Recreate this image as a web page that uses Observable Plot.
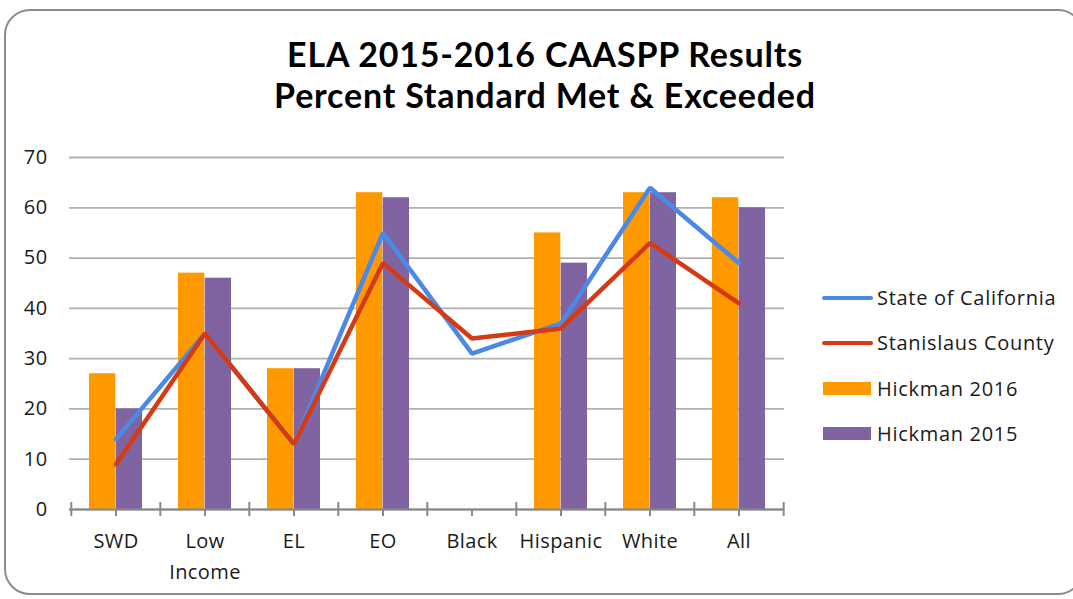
<!DOCTYPE html>
<html>
<head>
<meta charset="utf-8">
<script src="https://cdn.jsdelivr.net/npm/d3@7"></script>
<script src="https://cdn.jsdelivr.net/npm/@observablehq/plot@0.6"></script>
<style>
  html, body { margin: 0; padding: 0; background: #fff; }
  #wrap { position: relative; width: 1073px; height: 599px; overflow: hidden; background: #fff; }
  #frame { position: absolute; left: 4px; top: 9px; width: 1080px; height: 586px;
           border: 2px solid #8c8c8c; border-radius: 26px; box-sizing: border-box; }
  #title { position: absolute; left: 0; top: 33px; width: 1090px; text-align: center;
           font-family: Lato, "Open Sans", sans-serif; font-weight: 700; font-size: 34px;
           letter-spacing: 0.8px; line-height: 41px; color: #000; }
  #chart { position: absolute; left: 0; top: 0; }
  #legend { position: absolute; left: 822px; top: 275px; font-family: "Open Sans", sans-serif;
            font-size: 20px; letter-spacing: 0.7px; color: #1a1a1a; }
  .item { display: flex; align-items: center; height: 45.3px; white-space: nowrap; }
  .sw-line { width: 51px; height: 4px; border-radius: 2px; margin-right: 4px; }
  .sw-rect { width: 48px; height: 13px; margin-left: 1px; margin-right: 6px; }
</style>
</head>
<body>
<div id="wrap">
  <div id="frame"></div>
  <div id="title"></div>
  <div id="chart"></div>
  <div id="legend"></div>
</div>
<script>
// ---- data ----
const titleLines = ["ELA 2015-2016 CAASPP Results", "Percent Standard Met & Exceeded"];
const categories = ["SWD", "Low Income", "EL", "EO", "Black", "Hispanic", "White", "All"];
const hickman2016 = [27, 47, 28, 63, null, 55, 63, 62];
const hickman2015 = [20, 46, 28, 62, null, 49, 63, 60];
const stateOfCalifornia = [14, 35, 13, 55, 31, 37, 64, 49];
const stanislausCounty = [9, 35, 13, 49, 34, 36, 53, 41];
const yTicks = [0, 10, 20, 30, 40, 50, 60, 70];
const seriesNames = ["State of California", "Stanislaus County", "Hickman 2016", "Hickman 2015"];

// ---- styles ----
const colors = {
  "State of California": "#4a89e8",
  "Stanislaus County": "#d63a14",
  "Hickman 2016": "#ff9900",
  "Hickman 2015": "#8064a2"
};

const W = 800, H = 599, ML = 69, MR = 16, MT = 157, MB = 90;
const band = (W - ML - MR) / categories.length;
const gap = 18;               // outer gap at each side of a bar pair
const barW = band / 2 - gap;  // width of one bar

const toRows = (vals) => categories.map((c, i) => ({category: c, value: vals[i]}));
const bars16 = toRows(hickman2016).filter(d => d.value != null);
const bars15 = toRows(hickman2015).filter(d => d.value != null);
const lineCA = toRows(stateOfCalifornia);
const lineSC = toRows(stanislausCounty);

document.getElementById("title").innerHTML = titleLines.map(t => `<div>${t.replace("&", "&amp;")}</div>`).join("");

const chart = Plot.plot({
  width: W, height: H,
  marginLeft: ML, marginRight: MR, marginTop: MT, marginBottom: MB,
  style: {fontFamily: "'Open Sans', sans-serif", fontSize: "20px", color: "#1a1a1a", background: "transparent", overflow: "visible", letterSpacing: "0.4px"},
  x: {type: "band", domain: categories, padding: 0},
  y: {domain: [0, 70]},
  marks: [
    Plot.gridY(yTicks, {stroke: "#b0b0b0", strokeOpacity: 1, strokeWidth: 1.8}),
    Plot.barY(bars16, {x: "category", y: "value", fill: colors["Hickman 2016"], insetLeft: gap, insetRight: band - gap - barW}),
    Plot.barY(bars15, {x: "category", y: "value", fill: colors["Hickman 2015"], insetLeft: gap + barW, insetRight: gap}),
    Plot.ruleY([0], {stroke: "#888", strokeWidth: 2}),
    Plot.ruleX(categories, {x: d => d, y1: 0, y2: 0, insetTop: 0, insetBottom: -7, stroke: "#888", strokeWidth: 2}),
    Plot.ruleX(categories, {x: d => d, y1: 0, y2: 0, dx: -band / 2, insetTop: -7, insetBottom: -7, stroke: "#888", strokeWidth: 2}),
    Plot.ruleX(categories.slice(-1), {x: d => d, y1: 0, y2: 0, dx: band / 2, insetTop: -7, insetBottom: -7, stroke: "#888", strokeWidth: 2}),
    Plot.line(lineCA, {x: "category", y: "value", stroke: colors["State of California"], strokeWidth: 4.5, strokeLinejoin: "miter", strokeLinecap: "round"}),
    Plot.line(lineSC, {x: "category", y: "value", stroke: colors["Stanislaus County"], strokeWidth: 4.5, strokeLinejoin: "miter", strokeLinecap: "round"}),
    Plot.axisY({ticks: yTicks, tickSize: 0, tickPadding: 22, label: null, fill: "#1a1a1a"}),
    Plot.axisX({tickSize: 0, tickPadding: 16, label: null, fill: "#1a1a1a", lineHeight: 1.55, tickFormat: d => d.replace(" ", "\n")})
  ]
});
document.getElementById("chart").appendChild(chart);

// ---- legend ----
const legend = document.getElementById("legend");
seriesNames.forEach((name, i) => {
  const row = document.createElement("div");
  row.className = "item";
  const sw = document.createElement("div");
  sw.className = i < 2 ? "sw-line" : "sw-rect";
  sw.style.background = colors[name];
  const label = document.createElement("span");
  label.textContent = name;
  row.appendChild(sw);
  row.appendChild(label);
  legend.appendChild(row);
});
</script>
</body>
</html>
